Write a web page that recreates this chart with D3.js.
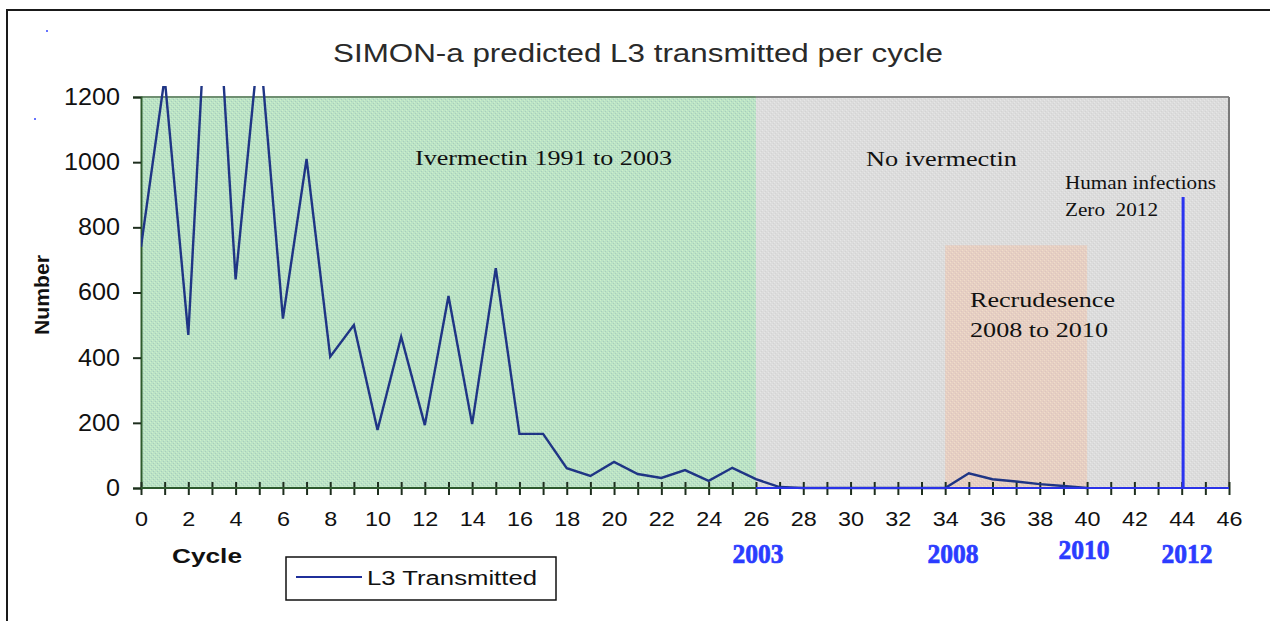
<!DOCTYPE html>
<html>
<head>
<meta charset="utf-8">
<script src="https://cdn.jsdelivr.net/npm/d3@7"></script>
<style>
  body { margin: 0; background: #fff; }
  svg { display: block; }
</style>
</head>
<body>
<svg id="chart" width="1270" height="621"></svg>
<script>
// cycles and predicted L3 transmitted
const cycles = d3.range(0, 41)
const l3 = [740, 1260, 470, 1830, 640, 1380, 520, 1010, 403, 500,
  178, 464, 193, 589, 196, 675, 166, 166, 61, 37,
  80, 43, 31, 55, 22, 62, 27, 3, 0, 0,
  0, 0, 0, 0, 0, 45, 27, 20, 12, 6, 0]

const yTicks = [0, 200, 400, 600, 800, 1000, 1200]
const xTicks = d3.range(0, 47)
const xLabels = d3.range(0, 47, 2)

// shaded periods: [from cycle, to cycle, top value]
const ivmPeriod = [0, 26]
const noIvmPeriod = [26, 46]
const recrudPeriod = [34, 40, 745]
const zeroMark = [44.06, 893]

const years = [
  { label: '2003', x: 758, y: 563 },
  { label: '2008', x: 953, y: 563 },
  { label: '2010', x: 1084, y: 559 },
  { label: '2012', x: 1187, y: 563 }
]

const svg = d3.select('#chart')
const x = d3.scaleLinear().domain([0, 46]).range([141, 1229])
const y = d3.scaleLinear().domain([0, 1200]).range([488, 97])

// outer frame
svg.append('path')
  .attr('d', 'M7,621 V10 H1270')
  .attr('fill', 'none')
  .attr('stroke', '#1a1a1a')
  .attr('stroke-width', 2)

// stray dots
svg.append('circle').attr('cx', 47).attr('cy', 31).attr('r', 1).attr('fill', '#3344ff')
svg.append('circle').attr('cx', 35).attr('cy', 119).attr('r', 1).attr('fill', '#3344ff')

// textures
const defs = svg.append('defs')
function speckle(id, base, a, b) {
  const p = defs.append('pattern').attr('id', id)
    .attr('width', 4).attr('height', 4).attr('patternUnits', 'userSpaceOnUse')
  p.append('rect').attr('width', 4).attr('height', 4).attr('fill', base)
  p.append('rect').attr('x', 0).attr('y', 0).attr('width', 1).attr('height', 1).attr('fill', a)
  p.append('rect').attr('x', 2).attr('y', 2).attr('width', 1).attr('height', 1).attr('fill', a)
  p.append('rect').attr('x', 1).attr('y', 3).attr('width', 1).attr('height', 1).attr('fill', b)
  p.append('rect').attr('x', 3).attr('y', 1).attr('width', 1).attr('height', 1).attr('fill', b)
}
speckle('greenTex', '#bbe3c6', '#cdf0ca', '#a8cdbb')
speckle('greyTex', '#dcdcdc', '#e6e6e6', '#d3d3d3')
speckle('peachTex', '#e6cfc2', '#f0dccb', '#dcc4c0')

svg.append('rect')
  .attr('x', x(ivmPeriod[0])).attr('y', y(1200))
  .attr('width', x(ivmPeriod[1]) - x(ivmPeriod[0])).attr('height', y(0) - y(1200))
  .attr('fill', 'url(#greenTex)')
svg.append('rect')
  .attr('x', x(noIvmPeriod[0])).attr('y', y(1200))
  .attr('width', x(noIvmPeriod[1]) - x(noIvmPeriod[0])).attr('height', y(0) - y(1200))
  .attr('fill', 'url(#greyTex)')
svg.append('rect')
  .attr('x', x(recrudPeriod[0])).attr('y', y(recrudPeriod[2]))
  .attr('width', x(recrudPeriod[1]) - x(recrudPeriod[0])).attr('height', y(0) - y(recrudPeriod[2]))
  .attr('fill', 'url(#peachTex)')

// plot border
svg.append('line').attr('x1', x(0)).attr('x2', x(26)).attr('y1', y(1200)).attr('y2', y(1200))
  .attr('stroke', '#6f8f72').attr('stroke-width', 2)
svg.append('line').attr('x1', x(26)).attr('x2', x(46)).attr('y1', y(1200)).attr('y2', y(1200))
  .attr('stroke', '#8a8a8a').attr('stroke-width', 2)
svg.append('line').attr('x1', x(46)).attr('x2', x(46)).attr('y1', y(1200)).attr('y2', y(0))
  .attr('stroke', '#7a7a7a').attr('stroke-width', 2)

// y axis
const yAxis = svg.append('g').attr('transform', `translate(${x(0)},0)`)
  .call(d3.axisLeft(y).tickValues(yTicks).tickFormat(d3.format('d')).tickSize(8).tickPadding(13))
yAxis.select('.domain').attr('stroke', '#2d5a2d').attr('stroke-width', 2)
yAxis.selectAll('.tick line').attr('stroke', '#1e2e1e').attr('stroke-width', 2)
yAxis.selectAll('.tick text')
  .attr('font-family', 'Liberation Sans, Arial, sans-serif')
  .attr('font-size', 23).attr('fill', '#111')
  .attr('textLength', d => String(d).length * 14).attr('lengthAdjust', 'spacingAndGlyphs')

// x axis
const xAxis = svg.append('g').attr('transform', `translate(0,${y(0)})`)
  .call(d3.axisBottom(x).tickValues(xTicks).tickSize(0).tickFormat(d => xLabels.includes(d) ? d : ''))
xAxis.select('.domain').remove()
xAxis.selectAll('.tick line').remove()
xAxis.selectAll('.tick').append('line')
  .attr('y1', -6).attr('y2', 7)
  .attr('stroke', '#1e2e1e').attr('stroke-width', 2)
xAxis.selectAll('.tick text')
  .attr('y', 24).attr('dy', '0.71em')
  .attr('font-family', 'Liberation Sans, Arial, sans-serif')
  .attr('font-size', 20).attr('fill', '#111')
  .attr('textLength', d => xLabels.includes(d) ? String(d).length * 13 : null)
  .attr('lengthAdjust', 'spacingAndGlyphs')
svg.append('line').attr('x1', x(0)).attr('x2', x(26)).attr('y1', y(0)).attr('y2', y(0))
  .attr('stroke', '#2d5a2d').attr('stroke-width', 2)

// data line, clipped just above the plot
defs.append('clipPath').attr('id', 'clip')
  .append('rect').attr('x', x(0)).attr('y', 86).attr('width', x(46) - x(0)).attr('height', 410)
const line = d3.line().x((d, i) => x(cycles[i])).y(d => y(d))
svg.append('path')
  .datum(l3)
  .attr('clip-path', 'url(#clip)')
  .attr('d', line)
  .attr('fill', 'none')
  .attr('stroke', '#1f3585')
  .attr('stroke-width', 2.4)

// blue baseline over no-ivermectin period and zero-infection marker
svg.append('line').attr('x1', x(26)).attr('x2', x(46)).attr('y1', y(0)).attr('y2', y(0))
  .attr('stroke', '#2a33e8').attr('stroke-width', 2)
svg.append('line').attr('x1', x(zeroMark[0])).attr('x2', x(zeroMark[0]))
  .attr('y1', y(zeroMark[1])).attr('y2', y(0))
  .attr('stroke', '#2a33f0').attr('stroke-width', 3)

// title and axis titles
svg.append('text').attr('x', 333).attr('y', 62)
  .attr('font-family', 'Liberation Sans, Arial, sans-serif').attr('font-size', 25).attr('fill', '#2a2a2a')
  .attr('textLength', 610).attr('lengthAdjust', 'spacingAndGlyphs')
  .text('SIMON-a predicted L3 transmitted per cycle')
svg.append('text').attr('transform', 'translate(49,335) rotate(-90)')
  .attr('font-family', 'Liberation Sans, Arial, sans-serif').attr('font-size', 21)
  .attr('font-weight', 'bold').attr('fill', '#111')
  .attr('textLength', 80).attr('lengthAdjust', 'spacingAndGlyphs')
  .text('Number')
svg.append('text').attr('x', 172).attr('y', 563)
  .attr('font-family', 'Liberation Sans, Arial, sans-serif').attr('font-size', 21)
  .attr('font-weight', 'bold').attr('fill', '#111')
  .attr('textLength', 70).attr('lengthAdjust', 'spacingAndGlyphs')
  .text('Cycle')

// legend
const legend = svg.append('g')
legend.append('rect').attr('x', 286).attr('y', 557).attr('width', 270).attr('height', 43)
  .attr('fill', '#fff').attr('stroke', '#111').attr('stroke-width', 1.5)
legend.append('line').attr('x1', 296).attr('x2', 362).attr('y1', 577).attr('y2', 577)
  .attr('stroke', '#1f2f9a').attr('stroke-width', 2)
legend.append('text').attr('x', 367).attr('y', 585)
  .attr('font-family', 'Liberation Sans, Arial, sans-serif').attr('font-size', 20).attr('fill', '#111')
  .attr('textLength', 170).attr('lengthAdjust', 'spacingAndGlyphs')
  .text('L3 Transmitted')

// annotations
const serif = 'Liberation Serif, Times New Roman, serif'
const notes = [
  { t: 'Ivermectin 1991 to 2003', x: 415, y: 165, s: 22, w: 257 },
  { t: 'No ivermectin', x: 866, y: 166, s: 22, w: 151 },
  { t: 'Human infections', x: 1065, y: 189, s: 18, w: 151 },
  { t: 'Zero  2012', x: 1065, y: 216, s: 18, w: 93 },
  { t: 'Recrudesence', x: 970, y: 307, s: 22, w: 145 },
  { t: '2008 to 2010', x: 970, y: 337, s: 22, w: 138 }
]
svg.append('g').selectAll('text')
  .data(notes).enter().append('text')
  .attr('x', d => d.x).attr('y', d => d.y)
  .attr('font-family', serif).attr('font-size', d => d.s).attr('fill', '#111')
  .attr('textLength', d => d.w).attr('lengthAdjust', 'spacingAndGlyphs')
  .style('white-space', 'pre')
  .text(d => d.t)

svg.append('g').selectAll('text')
  .data(years).enter().append('text')
  .attr('x', d => d.x).attr('y', d => d.y)
  .attr('text-anchor', 'middle')
  .attr('font-family', serif).attr('font-size', 28).attr('font-weight', 'bold')
  .attr('fill', '#2b3cff').attr('stroke', '#2b3cff').attr('stroke-width', 0.7)
  .attr('textLength', 51).attr('lengthAdjust', 'spacingAndGlyphs')
  .text(d => d.label)
</script>
</body>
</html>
